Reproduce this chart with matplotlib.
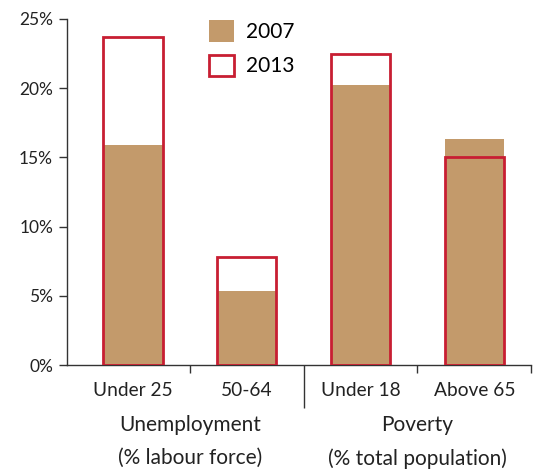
"""
Unemployment and poverty rates, 2007 vs 2013.
"""

import matplotlib
matplotlib.use("Agg")
import matplotlib.pyplot as plt
from matplotlib.patches import Patch

categories = ["Under 25", "50-64", "Under 18", "Above 65"]
values_2007 = [15.9, 5.35, 20.2, 16.3]
values_2013 = [23.7, 7.8, 22.5, 15.0]
group_labels = ["Unemployment\n(% labour force)", "Poverty\n(% total population)"]
y_ticks = [0, 5, 10, 15, 20, 25]

BROWN = "#C39A6B"
RED = "#C81E32"
AXIS = "#333333"


def main():
    plt.rcParams["font.family"] = ["Lato", "DejaVu Sans"]
    fig = plt.figure(figsize=(5.36, 4.70), dpi=100)
    ax = fig.add_axes([0.125, 0.2234, 0.866, 0.7362])

    x = list(range(len(categories)))
    width = 0.52
    ax.bar(x, values_2007, width=width, color=BROWN, linewidth=0, zorder=2)
    ax.bar(x, values_2013, width=width, facecolor="none", edgecolor=RED,
           linewidth=2, zorder=3)

    ax.set_xlim(-0.58, 3.5)
    ax.set_ylim(0, 25)
    ax.set_yticks(y_ticks)
    ax.set_yticklabels([f"{v}%" for v in y_ticks], fontsize=12.5, color="#222222")

    # category labels as minor ticks without marks, boundaries as major ticks
    ax.set_xticks([0.5, 1.5, 2.5, 3.5])
    ax.set_xticklabels([])
    ax.set_xticks(x, minor=True)
    ax.set_xticklabels(categories, minor=True, fontsize=13.8, color="#222222")
    ax.tick_params(axis="x", which="minor", length=0, pad=12)
    ax.tick_params(axis="x", which="major", length=6, color=AXIS, width=1)
    ax.tick_params(axis="y", length=6, color=AXIS, width=1, pad=4)

    # long separator between the two groups
    ax.xaxis.get_major_ticks()[1].tick1line.set_markersize(31)

    for side in ["top", "right"]:
        ax.spines[side].set_visible(False)
    for side in ["left", "bottom"]:
        ax.spines[side].set_color(AXIS)
        ax.spines[side].set_linewidth(1)

    for pos, label in zip([0.5, 2.5], group_labels):
        ax.text(pos, -0.145, label, transform=ax.get_xaxis_transform(),
                ha="center", va="top", fontsize=15, color="#222222",
                linespacing=1.8)

    handles = [Patch(facecolor=BROWN, edgecolor=BROWN, linewidth=0),
               Patch(facecolor="white", edgecolor=RED, linewidth=2)]
    ax.legend(handles, ["2007", "2013"], loc="upper left",
              bbox_to_anchor=(0.265, 1.05), frameon=False, fontsize=15,
              handlelength=1.2, handleheight=1.2, handletextpad=0.6,
              labelspacing=0.6)

    fig.savefig("out.png", dpi=100)


if __name__ == "__main__":
    main()
